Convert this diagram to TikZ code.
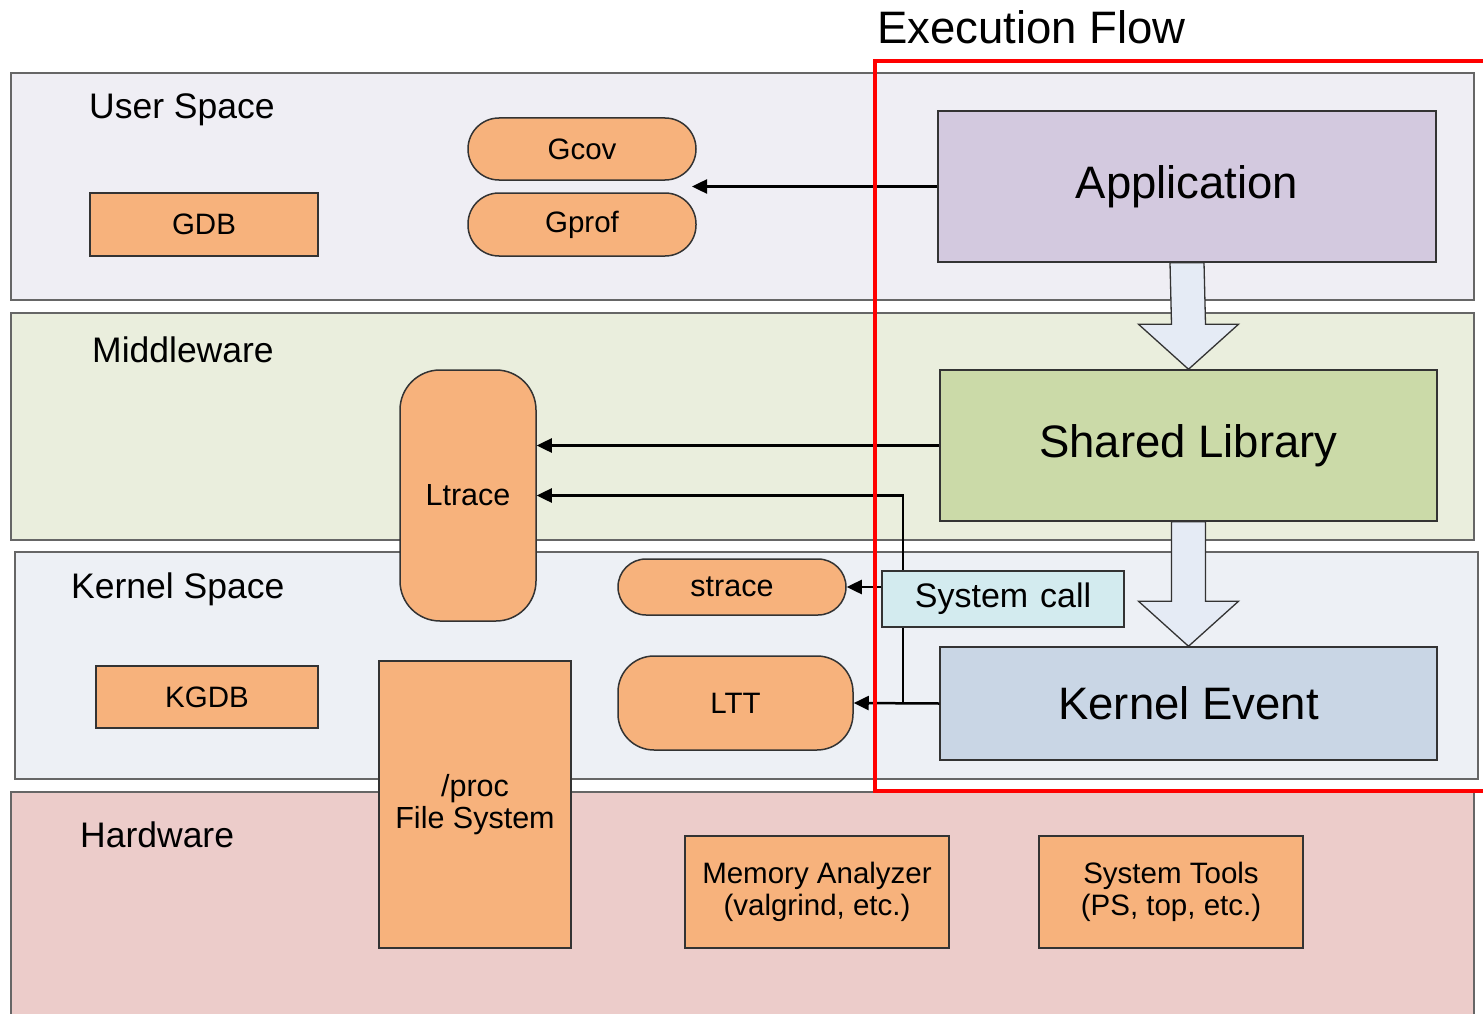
\documentclass[tikz,border=0pt]{standalone}
\usepackage{fontspec}
\setmainfont{Liberation Sans}
\usetikzlibrary{arrows.meta,calc}

\definecolor{userfill}{HTML}{EFEEF4}
\definecolor{midfill}{HTML}{EAEEDD}
\definecolor{kernfill}{HTML}{EDF0F5}
\definecolor{hwfill}{HTML}{ECCCCA}
\definecolor{toolfill}{HTML}{F7B27C}
\definecolor{appfill}{HTML}{D3C9DF}
\definecolor{libfill}{HTML}{CBDAA8}
\definecolor{evfill}{HTML}{C9D6E5}
\definecolor{callfill}{HTML}{D3EBEF}
\definecolor{flowfill}{HTML}{E5EBF5}
\definecolor{layerline}{HTML}{666666}
\definecolor{boxline}{HTML}{333333}

\tikzset{
  layer/.style={draw=layerline, line width=2pt},
  layerlabel/.style={anchor=west, inner sep=0pt, font=\fontsize{35.5}{38}\selectfont},
  tool/.style={draw=boxline, fill=toolfill, line width=1.5pt, inner sep=0pt,
    align=center, font=\fontsize{29.5}{32}\selectfont},
  pill/.style={tool, rounded corners=#1},
  flowbox/.style={draw=boxline, line width=1.5pt, inner sep=0pt,
    font=\fontsize{45.5}{48}\selectfont},
  conn/.style={draw=black, line width=2.5pt},
  arr/.style={conn, -{Triangle[length=15pt,width=14pt]}},
  bigarrow/.style={draw=boxline, line width=1.3pt, fill=flowfill, line join=miter},
}

\begin{document}
\begin{tikzpicture}[x=1pt, y=-1pt]
\useasboundingbox (0,0) rectangle (1483,1014);
\clip (0,0) rectangle (1483,1014);

% layers of the system
\draw[layer, fill=userfill] (11,73) rectangle (1474,300);
\draw[layer, fill=midfill]  (11,313) rectangle (1474,540);
\draw[layer, fill=kernfill] (15,552) rectangle (1478,779);
\draw[layer, fill=hwfill]   (11,792) rectangle (1474,1040);

\node[layerlabel] (lUser) at (89,110) {User Space};
\node[layerlabel] (lMid)  at (92,350) {Middleware};
\node[layerlabel] (lKern) at (71,589) {Kernel Space};
\node[layerlabel] (lHw)   at (80,835) {Hardware};

% execution flow boxes
\node[flowbox, fill=appfill, minimum width=498pt, minimum height=151pt] (app) at (1187,186.5) {Application};
\node[flowbox, fill=libfill, minimum width=497pt, minimum height=151pt] (lib) at (1188.5,445.5) {Shared Library};
\node[flowbox, fill=evfill,  minimum width=497pt, minimum height=113pt] (kev) at (1188.5,703.5) {Kernel Event};

% hollow flow arrows between the boxes
\path (app.south) coordinate (f1s) (lib.north) coordinate (f1e);
\draw[bigarrow] ($(f1s)+(-17,0)$) -- ($(f1e)+(-17,-45)$) -- ($(f1e)+(-50,-45)$) -- (f1e)
  -- ($(f1e)+(50,-45)$) -- ($(f1e)+(17,-45)$) -- ($(f1s)+(17,0)$) -- cycle;
\path (lib.south) coordinate (f2s) (kev.north) coordinate (f2e);
\draw[bigarrow] ($(f2s)+(-17,0)$) -- ($(f2e)+(-17,-45)$) -- ($(f2e)+(-50,-45)$) -- (f2e)
  -- ($(f2e)+(50,-45)$) -- ($(f2e)+(17,-45)$) -- ($(f2s)+(17,0)$) -- cycle;

% debugging and tracing tools
\node[tool, minimum width=228pt, minimum height=63pt] (gdb) at (204,224.5) {GDB};
\node[pill=31pt, minimum width=228pt, minimum height=62pt] (gcov) at (582,149) {Gcov};
\node[pill=31pt, minimum width=228pt, minimum height=63pt] (gprof) at (582,224.5) {Gprof};
\node[pill=40pt, minimum width=136pt, minimum height=251pt, font=\fontsize{30.5}{32}\selectfont] (ltrace) at (468,495.5) {Ltrace};
\node[pill=28pt, minimum width=228pt, minimum height=56pt, font=\fontsize{30.5}{32}\selectfont] (strace) at (732,587) {strace};
\node[pill=36pt, minimum width=235pt, minimum height=94pt] (ltt) at (735.5,703) {LTT};
\node[tool, minimum width=222pt, minimum height=62pt] (kgdb) at (207,697) {KGDB};
\node[tool, minimum width=192pt, minimum height=287pt, font=\fontsize{30.5}{32}\selectfont] (procfs) at (475,804.5) {/proc\\File System};
\node[tool, minimum width=264pt, minimum height=112pt] (memana) at (817,892) {Memory Analyzer\\(valgrind, etc.)};
\node[tool, minimum width=264pt, minimum height=112pt] (systools) at (1171,892) {System Tools\\(PS, top, etc.)};

% connectors
\coordinate (gap) at (692,186.5);
\draw[arr] (app.west) -- (gap);
\draw[arr] (lib.west) -- (lib.west -| ltrace.east);
\draw[arr] (kev.west) -- (ltt.east);
\coordinate (split) at (903,703.5);
\draw[arr] (split) |- (ltrace.east);

\node[draw=boxline, fill=callfill, line width=1.5pt, minimum width=242pt, minimum height=56pt,
  inner sep=0pt, font=\fontsize{34}{36}\selectfont] (syscall) at (1003,599) {System\hspace{0.35em}call};
\draw[arr] (strace.east -| syscall.west) -- (strace.east);

% execution flow frame
\draw[red, line width=3.5pt] (875,61) rectangle (1500,791);
\node[anchor=west, inner sep=0pt, font=\fontsize{45.5}{48}\selectfont] (flowtitle) at (877,27) {Execution Flow};
\end{tikzpicture}
\end{document}
